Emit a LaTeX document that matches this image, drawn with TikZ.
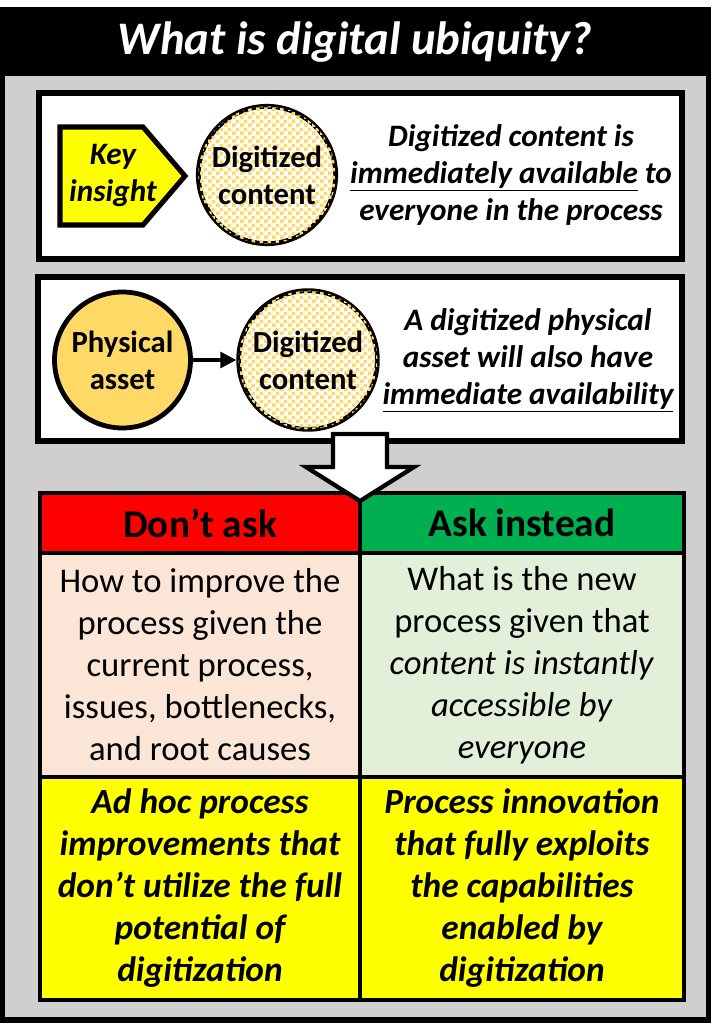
\documentclass[tikz,border=0pt]{standalone}
\usepackage{fontspec}
\setmainfont{Carlito}
\usetikzlibrary{patterns,arrows.meta}
\pgfdeclarepatternformonly{mychecker}{\pgfpointorigin}{\pgfqpoint{6pt}{6pt}}{\pgfqpoint{6pt}{6pt}}{%
  \pgfpathrectangle{\pgfpointorigin}{\pgfqpoint{3pt}{3pt}}%
  \pgfpathrectangle{\pgfqpoint{3pt}{3pt}}{\pgfqpoint{3pt}{3pt}}%
  \pgfusepath{fill}}
\definecolor{grayb}{HTML}{D0CECE}
\definecolor{gold}{HTML}{FFD966}
\definecolor{chk}{HTML}{FFD966}
\definecolor{redh}{HTML}{FF0000}
\definecolor{greenh}{HTML}{00B050}
\definecolor{peach}{HTML}{FBE5D6}
\definecolor{lgreen}{HTML}{E2F0D9}
\definecolor{yel}{HTML}{FFFF00}
\tikzset{
  panel/.style={draw=black, fill=white, line width=4.5pt, inner sep=0pt},
  bubble/.style={circle, draw=black, line width=3.6pt, minimum size=103pt, inner sep=0pt, align=center,
    font=\fontsize{23pt}{27.75pt}\selectfont\bfseries},
  digi/.style={bubble, fill=white, postaction={pattern=mychecker, pattern color=chk}},
  bitext/.style={align=center, font=\fontsize{23.4pt}{27.75pt}\selectfont\bfseries\itshape},
  cell/.style={draw=black, line width=3pt, anchor=north west, inner sep=0pt, align=center},
  headtxt/.style={font=\fontsize{29.5pt}{33pt}\selectfont\bfseries},
  bodytxt/.style={font=\fontsize{26pt}{31.5pt}\selectfont},
  outtxt/.style={font=\fontsize{26.5pt}{31.5pt}\selectfont\bfseries\itshape},
}
\begin{document}
\begin{tikzpicture}[x=0.75pt,y=-0.75pt]
\useasboundingbox (0,0) rectangle (711,1023);
\fill[black] (0,7) rectangle (711,1023);
\fill[grayb] (5,76) rectangle (706,1017);
\node[text=white, font=\fontsize{35pt}{40pt}\selectfont\bfseries\itshape] (title) at (355,42) {What is digital ubiquity?};

% panel 1
\node[panel, minimum width=482pt, minimum height=124.5pt] (panel1) at (360.5,176) {};
\filldraw[fill=yel, draw=black, line width=3.8pt, line join=miter]
  (60,127) -- (143,127) -- (185,176) -- (143,225) -- (60,225) -- cycle;
\node[bitext] (key) at (113,176) {Key\\insight};
\node[digi] (dc1) at (267,175) {Digitized\\content};
\node[bitext] (t1) at (511,175) {Digitized content is\\\underline{immediately available} to\\everyone in the process};

% panel 2
\node[panel, minimum width=483pt, minimum height=123pt] (panel2) at (360,359) {};
\node[bubble, fill=gold, minimum size=102pt] (pa) at (122.5,360) {Physical\\asset};
\node[digi, minimum size=104pt] (dc2) at (308,360) {Digitized\\content};
\draw[line width=2.4pt, -{Triangle[length=12pt,width=12pt]}] (pa) -- (dc2);
\node[bitext] (t2) at (528,360) {A digitized physical\\asset will also have\\\underline{immediate availability}};

% table
\node[cell, fill=redh, minimum width=240pt, minimum height=45pt, headtxt] (h1) at (38,491) {Don’t ask};
\node[cell, fill=greenh, minimum width=243pt, minimum height=45pt, headtxt] (h2) at (358,491) {Ask instead};
\node[cell, fill=peach, minimum width=240pt, minimum height=168pt, bodytxt] (b1) at (38,551)
  {How to improve the\\process given the\\current process,\\issues, bottlenecks,\\and root causes};
\node[cell, fill=lgreen, minimum width=243pt, minimum height=168pt, bodytxt] (b2) at (358,551)
  {What is the new\\process given that\\\textit{content is instantly}\\\textit{accessible by}\\\textit{everyone}};
\node[cell, fill=yel, minimum width=240pt, minimum height=167.25pt, outtxt] (o1) at (38,775)
  {Ad hoc process\\improvements that\\don’t utilize the full\\potential of\\digitization};
\node[cell, fill=yel, minimum width=243pt, minimum height=167.25pt, outtxt] (o2) at (358,775)
  {Process innovation\\that fully exploits\\the capabilities\\enabled by\\digitization};

% big arrow
\filldraw[fill=white, draw=black, line width=3.2pt, line join=miter]
  (333,434) -- (387,434) -- (387,467) -- (414,467) -- (360,501) -- (306,467) -- (333,467) -- cycle;
\end{tikzpicture}
\end{document}
